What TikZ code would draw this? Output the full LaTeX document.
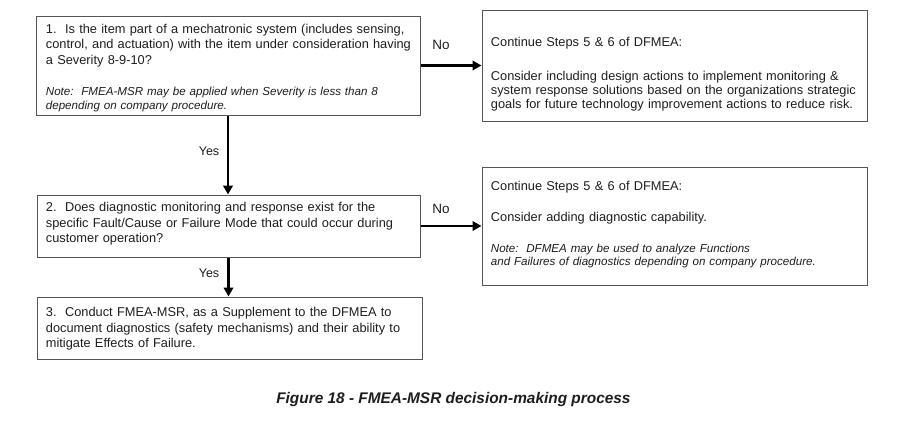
\documentclass[tikz,border=0pt]{standalone}
\usepackage{fontspec}
\setmainfont{Liberation Sans}
\usetikzlibrary{arrows.meta}
\definecolor{boxgray}{HTML}{555555}
\definecolor{textcol}{HTML}{1E1E1E}
\begin{document}
\begin{tikzpicture}[x=1pt,y=-1pt,
  box/.style={draw=boxgray,line width=1pt,inner sep=0pt,fill=white},
  txt/.style={anchor=base west,text width=400pt,align=left,inner sep=0pt,text=textcol,
    font=\fontsize{12.8}{15.5}\selectfont},
  txttight/.style={txt,font=\fontsize{12.8}{14}\selectfont},
  note/.style={txt,font=\itshape\fontsize{11.6}{14}\selectfont},
  notetight/.style={txt,font=\itshape\fontsize{11.6}{13.5}\selectfont},
  lbl/.style={inner sep=0pt,text=textcol,font=\fontsize{13.5}{16}\selectfont},
  arr/.style={line width=2.6pt,-{Triangle[length=9pt,width=9.5pt]}}]
\useasboundingbox[fill=white] (0,0) rectangle (900,423);

% boxes
\node[box,minimum width=384pt,minimum height=99pt] (b1) at (228,65.5) {};
\node[box,minimum width=385pt,minimum height=111pt] (r1) at (674.5,65.5) {};
\node[box,minimum width=383pt,minimum height=62pt] (b2) at (228.5,226) {};
\node[box,minimum width=385pt,minimum height=118pt] (r2) at (674.5,226) {};
\node[box,minimum width=385pt,minimum height=62pt] (b3) at (229.5,328) {};

% texts
\node[txt] (b1t) at (45.7,33.5) {1.\ \ Is the item part of a mechatronic system (includes sensing,\\control, and actuation) with the item under consideration having\\a Severity 8-9-10?};
\node[note] (b1n) at (45.7,95) {Note:\ \ FMEA-MSR may be applied when Severity is less than 8\\depending on company procedure.};

\node[txt] (r1a) at (490.7,46) {Continue Steps 5 \& 6 of DFMEA:};
\node[txttight] (r1b) at (490.7,80.5) {Consider including design actions to implement monitoring \&\\system response solutions based on the organizations strategic\\goals for future technology improvement actions to reduce risk.};

\node[txt] (b2t) at (45.7,211.5) {2.\ \ Does diagnostic monitoring and response exist for the\\specific Fault/Cause or Failure Mode that could occur during\\customer operation?};

\node[txt] (r2a) at (490.7,190.5) {Continue Steps 5 \& 6 of DFMEA:};
\node[txt] (r2b) at (490.7,221.5) {Consider adding diagnostic capability.};
\node[notetight] (r2n) at (490.7,252) {Note:\ \ DFMEA may be used to analyze Functions\\and Failures of diagnostics depending on company procedure.};

\node[txt] (b3t) at (45.7,316.5) {3.\ \ Conduct FMEA-MSR, as a Supplement to the DFMEA to\\document diagnostics (safety mechanisms) and their ability to\\mitigate Effects of Failure.};

% connectors
\draw[arr] (b1.south) -- (b1.south |- b2.north);
\draw[arr] (b2.south) -- (b2.south |- b3.north);
\draw[arr] (b1.east) -- (b1.east -| r1.west);
\draw[arr] (b2.east) -- (b2.east -| r2.west);

% labels
\node[lbl] (no1) at (441,45) {No};
\node[lbl] (no2) at (441,208.5) {No};
\node[lbl,font=\fontsize{12.5}{15}\selectfont] (yes1) at (209,151.5) {Yes};
\node[lbl,font=\fontsize{12.5}{15}\selectfont] (yes2) at (209,273.5) {Yes};

% caption
\node[inner sep=0pt,text=textcol,font=\bfseries\itshape\fontsize{15.4}{18}\selectfont] (cap) at (453.4,400) {Figure 18 - FMEA-MSR decision-making process};
\end{tikzpicture}
\end{document}
